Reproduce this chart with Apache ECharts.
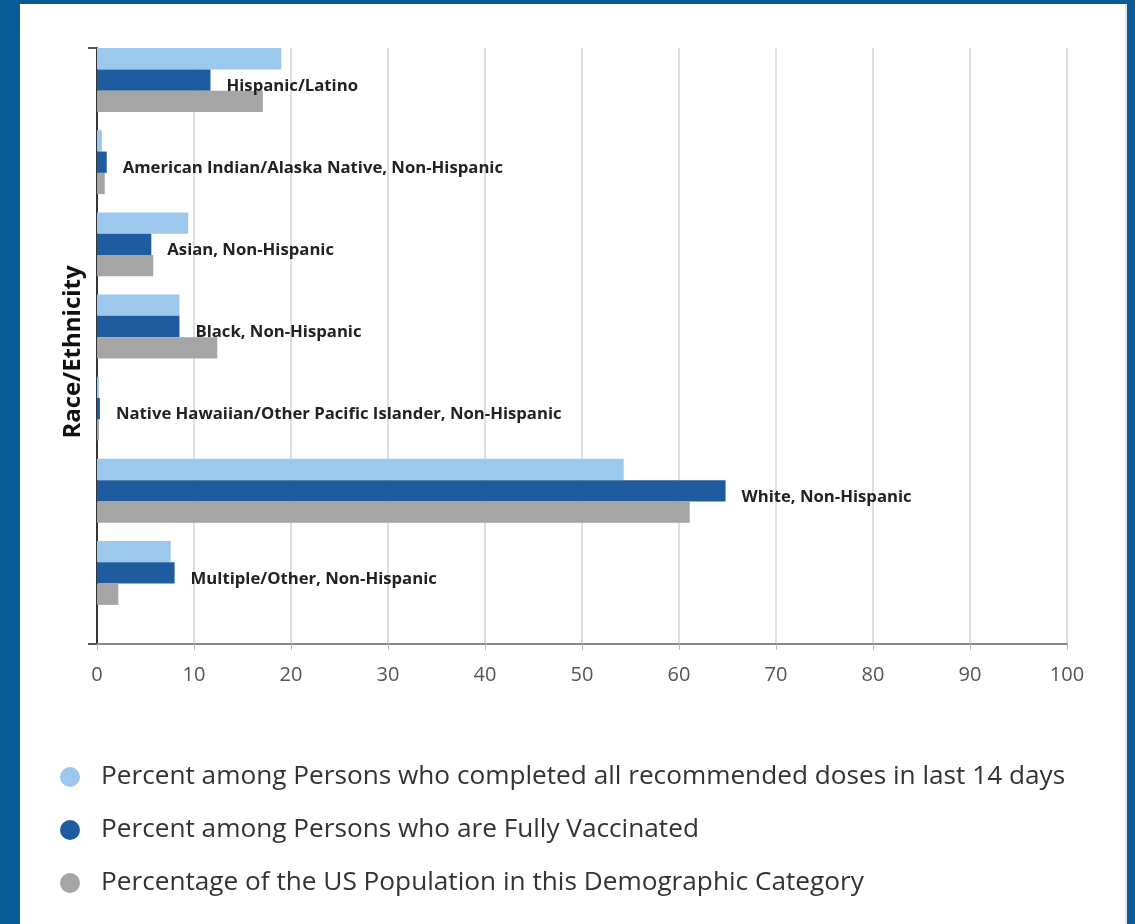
<!DOCTYPE html>
<html>
<head>
<meta charset="utf-8">
<script src="https://cdn.jsdelivr.net/npm/echarts@6/dist/echarts.min.js"></script>
<style>
html,body{margin:0;padding:0;width:1135px;height:924px;overflow:hidden;background:#0b5c96;}
#panel{position:absolute;left:20px;top:4px;width:1105px;height:920px;background:#fff;border-right:2px solid #e4e4e4;}
#chart{position:absolute;left:0;top:0;width:1135px;height:924px;}
</style>
</head>
<body>
<div id="panel"></div>
<div id="chart"></div>
<script>
const categories = [
  "Hispanic/Latino",
  "American Indian/Alaska Native, Non-Hispanic",
  "Asian, Non-Hispanic",
  "Black, Non-Hispanic",
  "Native Hawaiian/Other Pacific Islander, Non-Hispanic",
  "White, Non-Hispanic",
  "Multiple/Other, Non-Hispanic"
];
const seriesNames = [
  "Percent among Persons who completed all recommended doses in last 14 days",
  "Percent among Persons who are Fully Vaccinated",
  "Percentage of the US Population in this Demographic Category"
];
const recent14Days = [19.0, 0.5, 9.4, 8.5, 0.2, 54.3, 7.6];
const fullyVaccinated = [11.7, 1.0, 5.6, 8.5, 0.3, 64.8, 8.0];
const usPopulation = [17.1, 0.8, 5.8, 12.4, 0.2, 61.1, 2.2];
const xTicks = [0, 100, 10];
const yAxisTitle = "Race/Ethnicity";
const colors = ["#9dc8ee", "#1e5b9f", "#a5a5a5"];

const chart = echarts.init(document.getElementById('chart'));
const font = "'Open Sans', 'Noto Sans', sans-serif";
const barW = 21.3;
const option = {
  animation: false,
  textStyle: { fontFamily: font },
  grid: [
    { left: 97, width: 970, top: 39, height: 575 },
    { left: 97, width: 970, top: 48, height: 596 }
  ],
  xAxis: [
    { gridIndex: 0, type: 'value', min: xTicks[0], max: xTicks[1], interval: xTicks[2], show: false },
    { gridIndex: 1, type: 'value', min: xTicks[0], max: xTicks[1], interval: xTicks[2],
      axisLine: { show: true, lineStyle: { color: '#8a8a8a', width: 2 } },
      axisTick: { show: true, length: 6, lineStyle: { color: '#bbb' } },
      axisLabel: { color: '#555', fontSize: 20, margin: 21, fontFamily: font },
      splitLine: { show: true, lineStyle: { color: '#d4d4d4', width: 1.5 } } }
  ],
  yAxis: [
    { gridIndex: 0, type: 'category', data: categories, inverse: true, show: false },
    { gridIndex: 1, type: 'value', min: 0, max: 1, interval: 1,
      name: yAxisTitle, nameLocation: 'middle', nameRotate: 90, nameGap: 12,
      nameTextStyle: { fontSize: 24, fontWeight: 'bold', color: '#111', fontFamily: font, padding: [0, 12, 0, 0] },
      axisLine: { show: true, lineStyle: { color: '#333', width: 2 } },
      axisTick: { show: true, length: 9, lineStyle: { color: '#555', width: 2 } },
      axisLabel: { show: false },
      splitLine: { show: false } }
  ],
  legend: {
    orient: 'vertical', left: 55, top: 759, itemGap: 27,
    icon: 'circle', itemWidth: 20, itemHeight: 20,
    textStyle: { fontSize: 26.2, color: '#333', fontFamily: font, padding: [0, 0, 0, 16], lineHeight: 26 },
    data: seriesNames
  },
  series: [
    { name: seriesNames[0], type: 'bar', xAxisIndex: 0, yAxisIndex: 0, data: recent14Days,
      barWidth: barW, barGap: '0%', itemStyle: { color: colors[0] } },
    { name: seriesNames[1], type: 'bar', xAxisIndex: 0, yAxisIndex: 0, data: fullyVaccinated,
      barWidth: barW, barGap: '0%', itemStyle: { color: colors[1] },
      label: { show: true, position: 'right', distance: 16, offset: [0, 6],
        formatter: p => categories[p.dataIndex],
        fontSize: 16.7, fontWeight: 'bold', color: '#222', fontFamily: font } },
    { name: seriesNames[2], type: 'bar', xAxisIndex: 0, yAxisIndex: 0, data: usPopulation,
      barWidth: barW, barGap: '0%', itemStyle: { color: colors[2] } }
  ]
};
chart.setOption(option);
</script>
</body>
</html>
